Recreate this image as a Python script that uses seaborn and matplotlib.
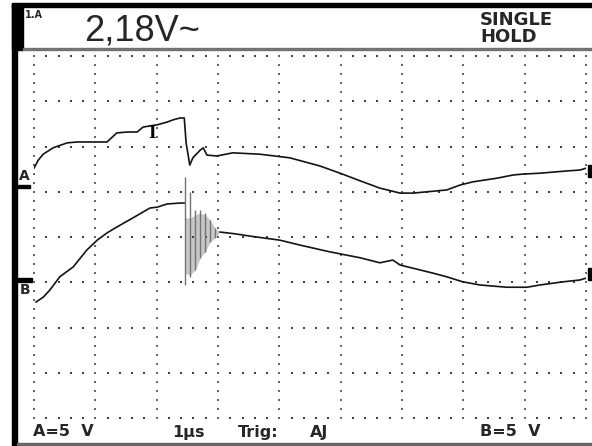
import numpy as np
import pandas as pd
import matplotlib
matplotlib.use("Agg")
import matplotlib.pyplot as plt
from matplotlib.patches import Rectangle
import seaborn as sns

# trace A: time in us (1 us/div), level in divisions from bottom of screen
a_t = [0.0, 0.07, 0.15, 0.31, 0.54, 0.70, 1.19, 1.35, 1.52, 1.68, 1.78, 2.01, 2.17,
       2.27, 2.38, 2.45, 2.48, 2.54, 2.59, 2.71, 2.76, 2.82, 2.98, 3.24, 3.68, 4.17,
       4.66, 4.99, 5.32, 5.64, 5.97, 6.18, 6.73, 6.95, 7.16, 7.55, 7.81, 7.97, 8.25,
       8.69, 8.90, 9.0]
a_v = [5.52, 5.70, 5.83, 5.97, 6.08, 6.10, 6.10, 6.30, 6.32, 6.32, 6.43, 6.48, 6.54,
       6.59, 6.63, 6.63, 6.08, 5.59, 5.75, 5.92, 5.97, 5.81, 5.79, 5.86, 5.83, 5.75,
       5.57, 5.41, 5.24, 5.08, 4.97, 4.97, 5.04, 5.15, 5.22, 5.30, 5.37, 5.39, 5.41,
       5.46, 5.48, 5.52]

# trace B, before and after the ringing burst
b1_t = [0.03, 0.15, 0.26, 0.42, 0.64, 0.86, 1.03, 1.19, 1.35, 1.61, 1.89, 2.01, 2.17, 2.38, 2.45]
b1_v = [2.56, 2.67, 2.83, 3.12, 3.34, 3.71, 3.93, 4.09, 4.22, 4.42, 4.64, 4.66, 4.73, 4.75, 4.75]
b2_t = [3.03, 3.28, 3.52, 4.01, 4.34, 4.83, 5.32, 5.64, 5.85, 5.97, 6.18, 6.51, 6.73,
        6.99, 7.27, 7.71, 8.04, 8.25, 8.63, 8.90, 9.0]
b2_v = [4.11, 4.07, 4.02, 3.93, 3.82, 3.67, 3.54, 3.43, 3.49, 3.38, 3.31, 3.20, 3.12,
        3.01, 2.94, 2.89, 2.89, 2.94, 3.01, 3.05, 3.09]

# ringing burst on B: peak envelope and glitch-capture band
ring_t = [2.46, 2.54, 2.63, 2.71, 2.79, 2.87, 2.95, 3.03]
ring_hi = [5.33, 4.99, 4.60, 4.60, 4.53, 4.38, 4.20, 4.11]
ring_lo = [2.94, 3.12, 3.27, 3.54, 3.67, 3.89, 3.98, 4.11]
band_hi = [4.42, 4.42, 4.49, 4.53, 4.49, 4.38, 4.20, 4.11]
band_lo = [3.20, 3.16, 3.27, 3.54, 3.67, 3.89, 3.98, 4.11]

W, H = 592, 446
sns.set_style("white")
fig = plt.figure(figsize=(W / 100, H / 100), dpi=100)
fig.patch.set_facecolor("white")

ax = fig.add_axes([34 / W, (H - 418) / H, 552 / W, 362 / H])

# dotted graticule, 5 sub-dots per division
sub_x = np.arange(0, 9.001, 0.2)
sub_y = np.arange(0, 8.001, 0.2)
for gy in range(9):
    ax.plot(sub_x, np.full_like(sub_x, gy), ls="none", marker="s", ms=1.6, mew=0,
            color="0.25", clip_on=False)
for gx in range(10):
    ax.plot(np.full_like(sub_y, gx), sub_y, ls="none", marker="s", ms=1.6, mew=0,
            color="0.4", clip_on=False)

# ringing
ax.fill_between(ring_t, band_lo, band_hi, color="0.78", lw=0)
ax.vlines(ring_t, ring_lo, ring_hi, color="0.45", lw=1.0)

tr = pd.DataFrame({"t": a_t, "v": a_v})
sns.lineplot(data=tr, x="t", y="v", ax=ax, color="0.08", lw=1.2, sort=False, estimator=None)
sns.lineplot(x=b1_t, y=b1_v, ax=ax, color="0.08", lw=1.2, sort=False, estimator=None)
sns.lineplot(x=b2_t, y=b2_v, ax=ax, color="0.08", lw=1.2, sort=False, estimator=None)
ax.set_xlim(0, 9)
ax.set_ylim(0, 8)
ax.axis("off")

# cursor glyph on trace A
ax.text(1.92, 6.28, "I", fontsize=14, fontweight="bold", family="Liberation Serif",
        ha="center", va="center", color="k")

# ground markers on the left
ax.text(-0.16, 5.34, "A", fontsize=10, fontweight="bold", ha="center", va="center")
ax.add_patch(Rectangle((-0.26, 5.08), 0.2, 0.07, color="k", clip_on=False))
ax.text(-0.14, 2.82, "B", fontsize=10, fontweight="bold", ha="center", va="center")
ax.add_patch(Rectangle((-0.26, 3.0), 0.23, 0.1, color="k", clip_on=False))
# end markers on the right
ax.add_patch(Rectangle((9.03, 5.33), 0.1, 0.26, color="k", clip_on=False))
ax.add_patch(Rectangle((9.03, 3.05), 0.1, 0.26, color="k", clip_on=False))

# screen frame
fig.patches.append(Rectangle((12 / W, 1 - 7 / H), 1, 4 / H, transform=fig.transFigure,
                             color="k"))
fig.patches.append(Rectangle((12 / W, 0), 5 / W, 1 - 4 / H, transform=fig.transFigure,
                             color="k"))
fig.patches.append(Rectangle((12 / W, 1 - 50 / H), 11 / W, 46 / H, transform=fig.transFigure,
                             color="k"))
fig.patches.append(Rectangle((23 / W, 1 - 50 / H), 1, 2 / H, transform=fig.transFigure,
                             color="0.45"))
fig.patches.append(Rectangle((17 / W, 0), 1, 3 / H, transform=fig.transFigure,
                             color="0.4"))

# header text
fig.text(25 / W, 1 - 15 / H, "1.A", fontsize=7, fontweight="bold", va="center")
fig.text(84 / W, 1 - 31 / H, "2,18V~", fontsize=26, family="Liberation Sans",
         va="center")
fig.text(480 / W, 1 - 20 / H, "SINGLE", fontsize=13, fontweight="bold", va="center")
fig.text(480 / W, 1 - 37 / H, "HOLD", fontsize=13, fontweight="bold", va="center")

# footer text
fy = 1 - 432 / H
fig.text(33 / W, fy, "A=5  V", fontsize=11.5, fontweight="bold", va="center")
fig.text(172 / W, fy, "1\u00b5s", fontsize=11.5, fontweight="bold", va="center")
fig.text(238 / W, fy, "Trig:", fontsize=11.5, fontweight="bold", va="center")
fig.text(310 / W, fy, "AJ", fontsize=11.5, fontweight="bold", va="center")
fig.text(480 / W, fy, "B=5  V", fontsize=11.5, fontweight="bold", va="center")

fig.savefig("out.png", dpi=100)
